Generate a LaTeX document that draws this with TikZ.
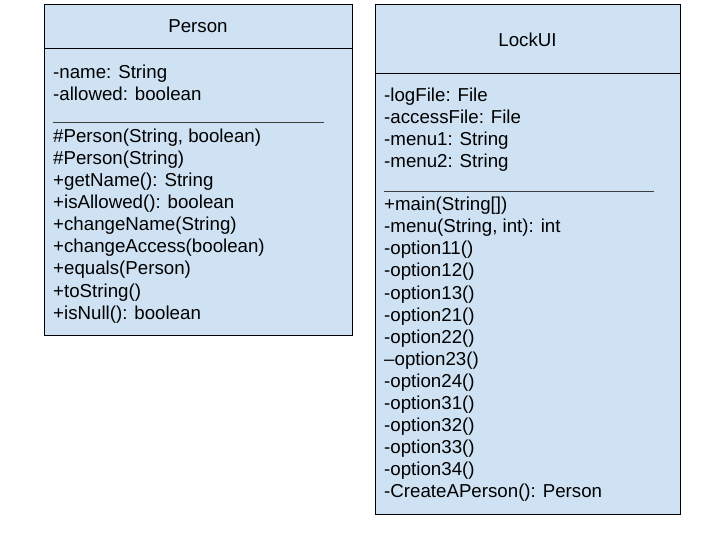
\documentclass[tikz,border=0pt]{standalone}
\usepackage{fontspec}
\setmainfont{Liberation Sans}
\definecolor{boxfill}{HTML}{CFE2F3}
\definecolor{sepline}{HTML}{3C3C3C}
\tikzset{
  classbox/.style={draw=black, fill=boxfill, line width=1bp, anchor=north west, inner sep=0pt},
  member/.style={anchor=base west, inner sep=0pt, font=\fontsize{18.7bp}{22bp}\selectfont},
  classtitle/.style={anchor=base, inner sep=0pt, font=\fontsize{18.7bp}{22bp}\selectfont},
  headline/.style={draw=black, line width=1bp},
  sepstyle/.style={draw=sepline, line width=1bp}
}
\begin{document}
\begin{tikzpicture}[x=1bp,y=-1bp]
\useasboundingbox (0,0) rectangle (720,540);
% Person
\node[classbox, minimum width=308bp, minimum height=331bp] (person) at (44,4) {};
\coordinate (ph1) at (44,49);
\coordinate (ph2) at (352,49);
\draw[headline] (ph1) -- (ph2);
\node[classtitle] (ptitle) at (198,33) {Person};
\node[member] (pa1) at (53,79) {-name: String};
\node[member] (pa2) at (53,101) {-allowed: boolean};
\coordinate (ps1) at (53,123);
\coordinate (ps2) at (324,123);
\draw[sepstyle] (ps1) -- (ps2);
\foreach [count=\i] \t in {{\#Person(String, boolean)},{\#Person(String)},{+getName(): String},{+isAllowed(): boolean},{+changeName(String)},{+changeAccess(boolean)},{+equals(Person)},{+toString()},{+isNull(): boolean}}
  \node[member] (pm\i) at (53,{143+22*(\i-1)}) {\t};
% LockUI
\node[classbox, minimum width=305bp, minimum height=510bp] (lockui) at (375,4) {};
\coordinate (lh1) at (375,74);
\coordinate (lh2) at (680,74);
\draw[headline] (lh1) -- (lh2);
\node[classtitle] (ltitle) at (527.5,47) {LockUI};
\foreach [count=\i] \t in {{-logFile: File},{-accessFile: File},{-menu1: String},{-menu2: String}}
  \node[member] (la\i) at (384,{102+22*(\i-1)}) {\t};
\coordinate (ls1) at (384,192);
\coordinate (ls2) at (654,192);
\draw[sepstyle] (ls1) -- (ls2);
\foreach [count=\i] \t in {{+main(String[])},{-menu(String, int): int},{-option11()},{-option12()},{-option13()},{-option21()},{-option22()},{–option23()},{-option24()},{-option31()},{-option32()},{-option33()},{-option34()},{-CreateAPerson(): Person}}
  \node[member] (lm\i) at (384,{211+22*(\i-1)}) {\t};
\end{tikzpicture}
\end{document}
